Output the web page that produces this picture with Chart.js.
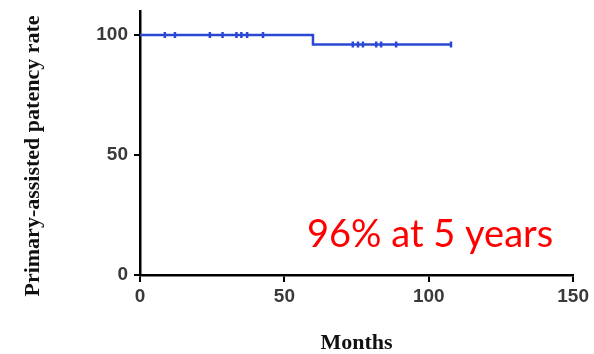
<!DOCTYPE html>
<html>
<head>
<meta charset="utf-8">
<script src="https://cdn.jsdelivr.net/npm/chart.js@4"></script>
<style>
html, body { margin: 0; padding: 0; background: #fff; }
</style>
</head>
<body>
<canvas id="km" width="594" height="354"></canvas>
<script>
// Kaplan-Meier step: months where the curve changes, and rate after it
const stepMonths = [0, 59.9, 107.7];
const stepRate = [100, 96, 96];
// censored cases (small ticks on the curve)
const censorMonths = [8.6, 12.1, 24.2, 28.6, 33.4, 35.1, 37.1, 42.6, 73.7, 75.5, 77.2, 81.8, 83.5, 88.7, 107.7];
const censorRate = [100, 100, 100, 100, 100, 100, 100, 100, 96, 96, 96, 96, 96, 96, 96];
const xTicks = [0, 50, 100, 150];
const yTicks = [0, 50, 100];
const yTitle = 'Primary-assisted patency rate';
const note = "96% at 5 years";

const blue = '#2b48d4';
const tickFont = { family: 'Liberation Sans', size: 19, weight: 'bold', lineHeight: 1 };
const titleFont = { family: 'Liberation Serif', size: 22, weight: 'bold', lineHeight: 1 };

// red note + y title (built-in title gets clipped at the top, so drawn here)
const notePlugin = {
  id: 'note',
  afterDraw(chart) {
    const ctx = chart.ctx;
    ctx.save();
    ctx.fillStyle = '#ff0000';
    ctx.font = '38px Lato';
    ctx.textBaseline = 'alphabetic';
    ctx.fillText(note, 307, 247);
    ctx.restore();

    ctx.save();
    ctx.translate(33, 156);
    ctx.rotate(-Math.PI / 2);
    ctx.fillStyle = '#111';
    ctx.font = 'bold 22px "Liberation Serif"';
    ctx.textAlign = 'center';
    ctx.textBaseline = 'middle';
    ctx.fillText(yTitle, 0, 0);
    ctx.restore();
  }
};

new Chart(document.getElementById('km'), {
  type: 'line',
  data: {
    datasets: [
      {
        data: stepMonths.map((m, i) => ({ x: m, y: stepRate[i] })),
        borderColor: blue,
        borderWidth: 2.5,
        stepped: 'before',
        pointRadius: 0,
        fill: false
      },
      {
        data: censorMonths.map((m, i) => ({ x: m, y: censorRate[i] })),
        showLine: false,
        pointStyle: 'line',
        rotation: 90,
        radius: 3,
        borderColor: blue,
        borderWidth: 2.5
      }
    ]
  },
  options: {
    responsive: false,
    animation: false,
    layout: { padding: { top: 0, right: 20, left: 0, bottom: 0 } },
    plugins: { legend: { display: false }, tooltip: { enabled: false } },
    scales: {
      x: {
        type: 'linear',
        min: 0,
        max: 150,
        afterBuildTicks: s => { s.ticks = xTicks.map(v => ({ value: v })); },
        afterFit: s => { s.height = 79; },
        grid: { drawOnChartArea: false, drawTicks: true, tickLength: 7, color: '#000', lineWidth: 2 },
        border: { color: '#000', width: 2.5 },
        ticks: { font: tickFont, color: '#3a3a3a', padding: 5, maxRotation: 0 },
        title: { display: true, text: 'Months', font: titleFont, color: '#111', padding: { top: 0, bottom: 0 } }
      },
      y: {
        min: 0,
        max: 110,
        afterBuildTicks: s => { s.ticks = yTicks.map(v => ({ value: v })); },
        afterFit: s => { s.width = 140; s.paddingTop = 11; },
        grid: { drawOnChartArea: false, drawTicks: true, tickLength: 6, color: '#000', lineWidth: 2 },
        border: { color: '#000', width: 2.5 },
        ticks: { font: tickFont, color: '#3a3a3a', padding: 6 }
      }
    }
  },
  plugins: [notePlugin]
});
</script>
</body>
</html>
